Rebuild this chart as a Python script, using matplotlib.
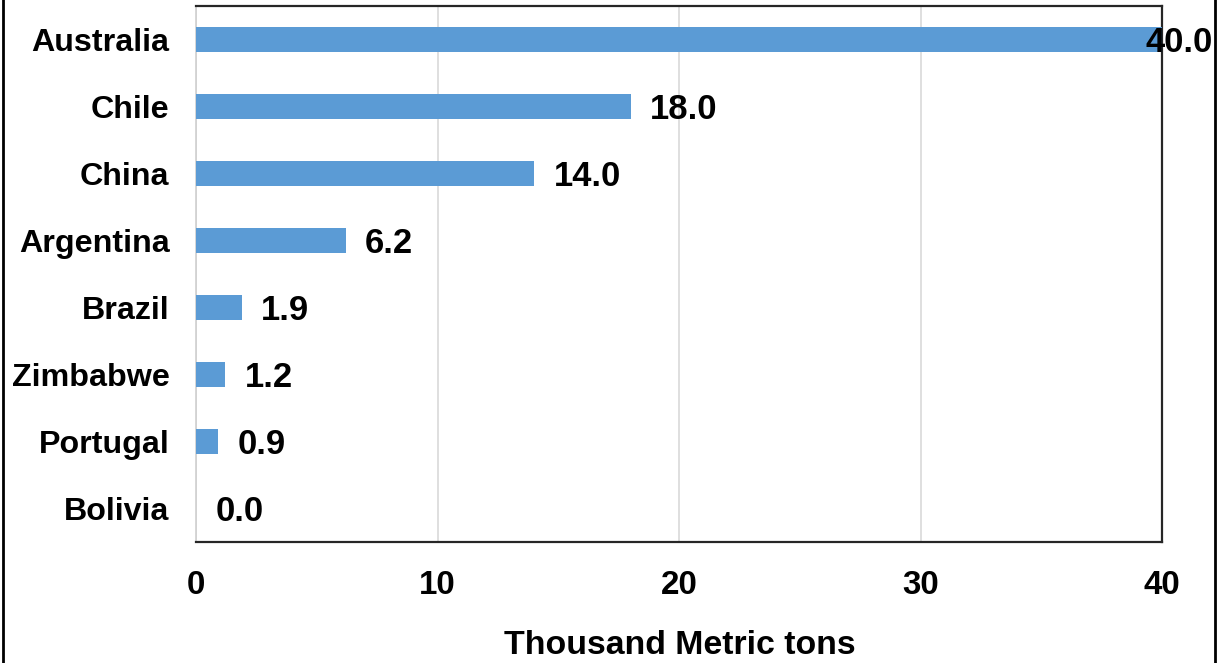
import matplotlib
matplotlib.use("Agg")
import matplotlib.pyplot as plt
from matplotlib.lines import Line2D
from matplotlib import font_manager as fm

# Data
countries = ["Australia", "Chile", "China", "Argentina", "Brazil", "Zimbabwe", "Portugal", "Bolivia"]
production = [40.0, 18.0, 14.0, 6.2, 1.9, 1.2, 0.9, 0.0]
x_ticks = [0, 10, 20, 30, 40]
x_label = "Thousand Metric tons"


def pick_family(candidates):
    for name in candidates:
        try:
            fm.findfont(fm.FontProperties(family=name, weight="bold"),
                        fallback_to_default=False)
            return name
        except Exception:
            continue
    return "DejaVu Sans"


FAMILY = pick_family(["Liberation Sans Narrow", "Arial Narrow", "DejaVu Sans Condensed",
                      "Liberation Sans", "Arial"])
plt.rcParams["font.family"] = [FAMILY, "DejaVu Sans"]
plt.rcParams["font.weight"] = "bold"

W, H, DPI = 1218, 663, 100
fig = plt.figure(figsize=(W / DPI, H / DPI), dpi=DPI)
fig.patch.set_facecolor("white")
renderer = fig.canvas.get_renderer()


def size_for_width(text, width_px, cap=30):
    prop = fm.FontProperties(family=[FAMILY, "DejaVu Sans"], weight="bold", size=10)
    w, _, _ = renderer.get_text_width_height_descent(text, prop, ismath=False)
    return min(cap, 10 * width_px / w)


cat_size = size_for_width("Australia", 138)
tick_size = size_for_width("40", 37)
val_size = size_for_width("18.0", 68)
xlab_size = size_for_width(x_label, 352)

left, right, top, bottom = 196, 1162, 6, 542
ax = fig.add_axes([left / W, 1 - bottom / H, (right - left) / W, (bottom - top) / H])

bar_color = "#5B9BD5"
ypos = list(range(len(countries)))
ax.barh(ypos, production, height=0.36, color=bar_color, zorder=3)

ax.set_xlim(0, 40)
ax.set_ylim(len(countries) - 0.5, -0.5)
ax.set_yticks(ypos)
ax.set_yticklabels(countries, fontsize=cat_size, fontweight="bold")
ax.set_xticks(x_ticks)
ax.set_xticklabels([str(t) for t in x_ticks], fontsize=tick_size, fontweight="bold")
ax.tick_params(axis="both", length=0)
ax.tick_params(axis="y", pad=19)
ax.tick_params(axis="x", pad=20)

ax.grid(axis="x", color="#D9D9D9", linewidth=1.2, zorder=0)
ax.set_axisbelow(True)

for side in ("top", "right", "bottom"):
    ax.spines[side].set_color("#262626")
    ax.spines[side].set_linewidth(1.6)
ax.spines["left"].set_color("#D0D0D0")
ax.spines["left"].set_linewidth(1.2)

# value labels just past each bar end; the widest bar's label is pulled back inside
for y, v in zip(ypos, production):
    dx = 14
    if v >= ax.get_xlim()[1] * 0.95:
        dx = -12
    ax.annotate(f"{v:.1f}", xy=(v, y), xytext=(dx, -2.5), textcoords="offset points",
                ha="left", va="center", fontsize=val_size, fontweight="bold",
                color="black", zorder=5, annotation_clip=False)

fig.text(680 / W, 1 - 654 / H, x_label, ha="center", va="baseline",
         fontsize=xlab_size, fontweight="bold")

# outer frame lines at the left and right edges
fig.add_artist(Line2D([2.5 / W, 2.5 / W], [0, 1], color="black", linewidth=2,
                      transform=fig.transFigure))
fig.add_artist(Line2D([1215 / W, 1215 / W], [0, 1], color="black", linewidth=2,
                      transform=fig.transFigure))

fig.savefig("out.png", dpi=DPI)
